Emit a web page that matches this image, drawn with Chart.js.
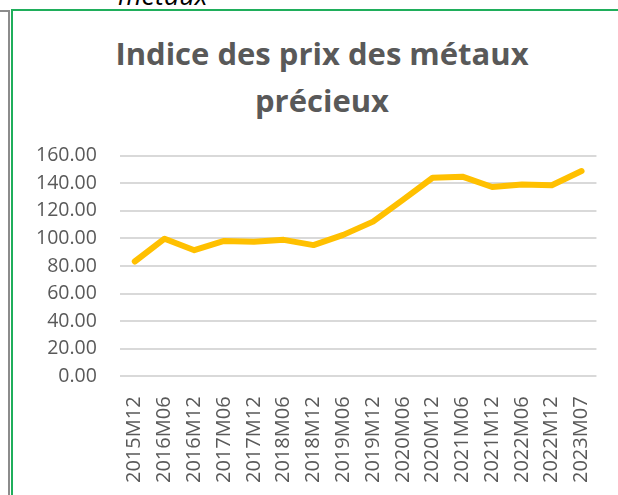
<!DOCTYPE html>
<html>
<head>
<meta charset="utf-8">
<script src="https://cdn.jsdelivr.net/npm/chart.js@4"></script>
<style>
  html, body { margin:0; padding:0; background:#fff; width:618px; height:495px; overflow:hidden; font-family:"Open Sans", sans-serif; }
  .cut { position:absolute; left:118px; top:-24px; font-size:27px; font-style:italic; color:#000; }
  .gray-rule { position:absolute; left:8px; top:10px; width:2px; height:485px; background:#8c8c8c; }
  .gray-top { position:absolute; left:0; top:10px; width:9px; height:2px; background:#8c8c8c; }
  .frame { position:absolute; left:11px; top:9px; width:607px; height:486px; border-left:2px solid #1fae5b; border-top:2px solid #1fae5b; box-sizing:border-box; }
  .title { position:absolute; left:13px; width:618px; top:30px; text-align:center; font-size:31px; font-weight:bold; line-height:47px; color:#595959; }
  .wrap { position:absolute; left:13px; top:121px; width:605px; height:374px; }
</style>
</head>
<body>
<div class="cut">métaux</div>
<div class="gray-rule"></div>
<div class="gray-top"></div>
<div class="frame"></div>
<div class="title">Indice des prix des métaux<br>précieux</div>
<div class="wrap"><canvas id="metaux" width="605" height="374"></canvas></div>
<script>
// periodes et valeurs de l'indice
const periods = ['2015M12','2016M06','2016M12','2017M06','2017M12','2018M06','2018M12','2019M06',
                 '2019M12','2020M06','2020M12','2021M06','2021M12','2022M06','2022M12','2023M07'];
const indexValues = [83.3, 99.8, 91.5, 98.2, 97.7, 99.0, 95.2, 102.6,
                     112.2, 128.0, 144.0, 144.8, 137.3, 139.2, 138.6, 148.9];
const yTicks = [0, 20, 40, 60, 80, 100, 120, 140, 160];

const txt = '#595959';
const grid = '#d9d9d9';

new Chart(document.getElementById('metaux'), {
  type: 'line',
  data: {
    labels: periods,
    datasets: [{
      data: indexValues,
      borderColor: '#ffc000',
      borderWidth: 6,
      pointRadius: 0,
      tension: 0,
      borderJoinStyle: 'round',
      borderCapStyle: 'round'
    }]
  },
  options: {
    responsive: false,
    animation: false,
    layout: { padding: { top: 13, right: 14, bottom: 0, left: 0 } },
    plugins: {
      legend: { display: false },
      tooltip: { enabled: false },
      title: { display: false }
    },
    scales: {
      x: {
        offset: true,
        grid: { display: false },
        border: { display: false },
        ticks: {
          color: txt, minRotation: 90, maxRotation: 90, autoSkip: false, padding: 12,
          font: { family: 'Open Sans', size: 20 }
        }
      },
      y: {
        min: 0, max: 160,
        afterBuildTicks: axis => { axis.ticks = yTicks.map(v => ({ value: v })); },
        grid: { color: grid, lineWidth: 2, drawTicks: false },
        border: { display: false },
        ticks: {
          color: txt, padding: 23, autoSkip: false,
          font: { family: 'Open Sans', size: 19.5 },
          callback: v => Number(v).toFixed(2)
        }
      }
    }
  }
});
</script>
</body>
</html>
